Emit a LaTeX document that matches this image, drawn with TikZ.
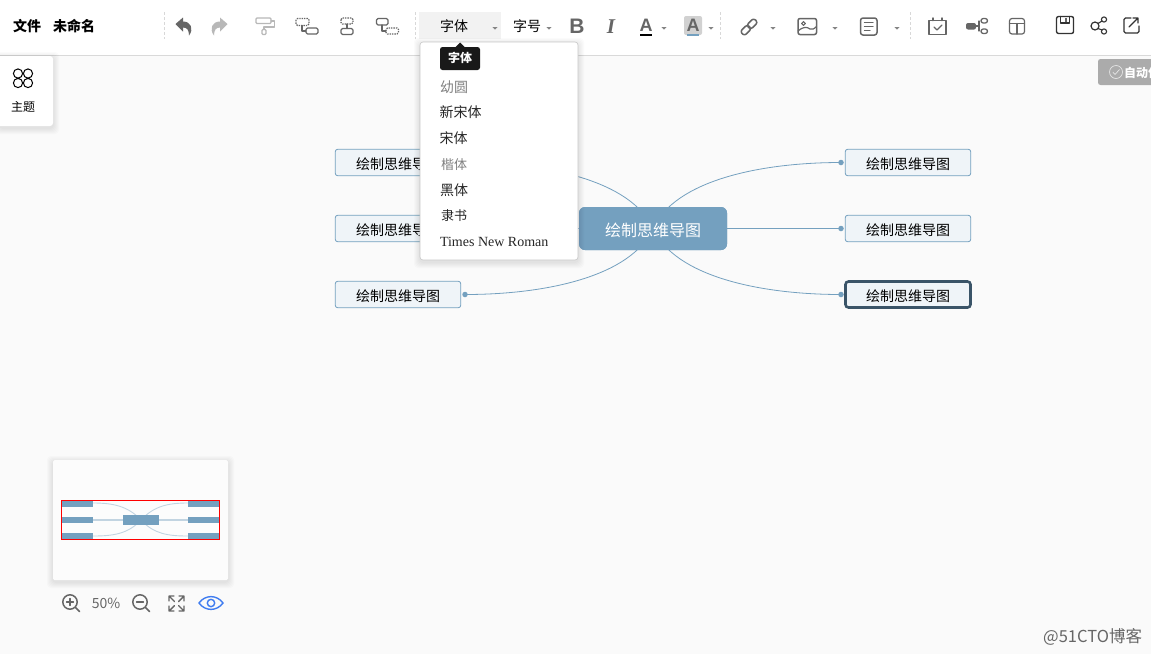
\documentclass[tikz,border=0pt]{standalone}
\usepackage{fontspec}
\setmainfont{Noto Sans CJK SC}
\newfontfamily\latinsans{Liberation Sans}
\newfontfamily\latinserif{Liberation Serif}
\usetikzlibrary{calc}
\definecolor{topic}{HTML}{74A0BF}
\definecolor{leaffill}{HTML}{EFF4F8}
\definecolor{selborder}{HTML}{3A5468}
\definecolor{canvasbg}{HTML}{FAFAFA}
\definecolor{icondark}{HTML}{666666}
\definecolor{iconlight}{HTML}{B8B8B8}
\definecolor{sepcol}{HTML}{D8D8D8}
\definecolor{minitrack}{HTML}{C2D4E1}
\definecolor{eyeblue}{HTML}{3F7CF0}
\newcommand{\fs}[1]{\fontsize{#1}{#1}\selectfont}
\newcommand{\softshadow}[4]{%
  \foreach \d in {1,2,3,4,5,6}{%
    \fill[black,opacity=.014,rounded corners=4pt] ({#1-\d},{#2-\d+2}) rectangle ({#3+\d},{#4+\d+2});}}
\newcommand{\lowered}[1]{\rule{0pt}{15pt}#1}
\newcommand{\loweredroot}[1]{\rule{0pt}{16.5pt}#1}
\tikzset{
  x=1pt,y=-1pt,
  txt/.style={inner sep=0pt,outer sep=0pt,text=black},
  leaf/.style={draw=topic,fill=leaffill,line width=.8pt,rounded corners=2.5pt,minimum width=125.5pt,minimum height=26.5pt,inner sep=0pt,font=\fs{14}},
  selleaf/.style={leaf,draw=selborder,line width=2.6pt,rounded corners=3pt,minimum width=125pt,minimum height=26pt},
  rootbox/.style={fill=topic,rounded corners=6pt,minimum width=148pt,minimum height=43pt,inner sep=0pt,text=white,font=\fs{16}},
  link/.style={draw=topic,line width=.8pt},
  linkdot/.style={circle,fill=topic,minimum size=5.5pt,inner sep=0pt},
  sepline/.style={draw=sepcol,line width=.7pt,dash pattern=on 2.5pt off 2.5pt},
  caret/.style={fill=icondark!80,draw=none},
  ico/.style={draw=icondark,line width=1.5pt,line cap=round,line join=round},
  icolight/.style={draw=iconlight,line width=1.5pt,line cap=round,line join=round},
  icodash/.style={draw=icondark,line width=1.1pt,dash pattern=on 1.4pt off 1pt},
  icodark/.style={draw=black!80,line width=1.4pt,line cap=round,line join=round},
  menuitem/.style={txt,anchor=west,text=black!85,font=\fs{14}},
  menufaint/.style={menuitem,text=black!50},
  minibar/.style={fill=topic},
  minitrackline/.style={draw=minitrack,line width=1.6pt},
  minicurve/.style={draw=minitrack,line width=.9pt},
}
\newcommand{\caretat}[2]{\fill[caret] ({#1-2.7},#2) -- ({#1+2.7},#2) -- (#1,{#2+2.7}) -- cycle;}
\begin{document}
\begin{tikzpicture}
\useasboundingbox (0,0) rectangle (1151,654);
\clip (0,0) rectangle (1151,654);
% canvas and toolbar
\fill[canvasbg] (0,0) rectangle (1151,654);
\fill[white] (0,0) rectangle (1151,55);
\draw[black!15,line width=1pt] (0,55.5) -- (1151,55.5);

% mind map connectors and nodes
\node[leaf] (l1) at (398,162.5) {\lowered{绘制思维导图}};
\node[leaf] (l2) at (398,228.5) {\lowered{绘制思维导图}};
\node[leaf] (l3) at (398,294.5) {\lowered{绘制思维导图}};
\node[leaf] (r1) at (908,162.5) {\lowered{绘制思维导图}};
\node[leaf] (r2) at (908,228.5) {\lowered{绘制思维导图}};
\node[selleaf] (r3) at (908,294.5) {\lowered{绘制思维导图}};
\node[rootbox,anchor=center] (root) at (653,228.5) {};
\node[linkdot] (dl1) at (465,162.5) {};
\node[linkdot] (dl2) at (465,228.5) {};
\node[linkdot] (dl3) at (465,294.5) {};
\node[linkdot] (dr1) at (841,162.5) {};
\node[linkdot] (dr2) at (841,228.5) {};
\node[linkdot] (dr3) at (841,294.5) {};
\draw[link] (root.center) .. controls +(22,-48) and +(-81,0) .. (dr1.center);
\draw[link] (root.center) -- (dr2.center);
\draw[link] (root.center) .. controls +(22,48) and +(-81,0) .. (dr3.center);
\draw[link] (root.center) .. controls +(-22,-48) and +(81,0) .. (dl1.center);
\draw[link] (root.center) -- (dl2.center);
\draw[link] (root.center) .. controls +(-22,48) and +(81,0) .. (dl3.center);
\node[rootbox] at (root.center) {\loweredroot{绘制思维导图}};

% left theme panel
\softshadow{0}{56}{53}{126}
\fill[white,rounded corners=3pt] (-6,56) rectangle (53,126);
\draw[black,line width=1pt] (18,73.5) circle (4.6) (28,73.5) circle (4.6) (18,83) circle (4.6) (28,83) circle (4.6);
\node[txt,font=\fs{12}] (themelabel) at (23,107) {主题};

% title
\node[txt,font=\fs{14}\bfseries] (filelabel) at (27,26) {文件};
\node[txt,font=\fs{14}\bfseries] (namelabel) at (74,26) {未命名};

% separators
\draw[sepline] (164.5,12) -- (164.5,39);
\draw[sepline] (415.5,12) -- (415.5,39);
\draw[sepline] (720.5,12) -- (720.5,39);
\draw[sepline] (910.5,12) -- (910.5,39);

% undo / redo
\fill[icondark] (175.5,24) -- (183,17.5) -- (183,21.5) .. controls (191,21.5) and (194,29) .. (189,35.5) .. controls (189,30) and (187,27.5) .. (183,27.5) -- (183,31.5) -- cycle;
\fill[iconlight] (227.5,24) -- (220,17.5) -- (220,21.5) .. controls (212,21.5) and (209,29) .. (214,35.5) .. controls (214,30) and (216,27.5) .. (220,27.5) -- (220,31.5) -- cycle;

% roller
\draw[icolight,line width=1.3pt,rounded corners=1pt] (256,18) rectangle (271,23.5);
\draw[icolight,line width=1.3pt] (271,21) -- (274.5,21) -- (274.5,27) -- (264,27) -- (264,29);
\draw[icolight,line width=1.3pt,rounded corners=1pt] (262,29.5) rectangle (266,34.5);
% sibling / child icons
\draw[icodash,rounded corners=1.5pt] (296,18.5) rectangle (309,25.5);
\draw[ico,line width=1.2pt] (302,25.5) -- (302,31) -- (306,31);
\draw[ico,line width=1.2pt,rounded corners=1.5pt] (306,28) rectangle (318,34);
\draw[icodash,rounded corners=1.5pt] (341,18) rectangle (353,24);
\draw[ico,line width=1.2pt] (347,24) -- (347,28.5);
\draw[ico,line width=1.2pt,rounded corners=1.5pt] (341,28.5) rectangle (353,34.5);
\draw[ico,line width=1.2pt,rounded corners=1.5pt] (376.5,18.5) rectangle (388,25);
\draw[ico,line width=1.2pt] (382,25) -- (382,31) -- (386,31);
\draw[icodash,rounded corners=1.5pt] (386,28) rectangle (398.5,34);

% font controls
\fill[black!5] (419,12) rectangle (501,39);
\node[txt,font=\fs{14}] (fontbtn) at (454,26.5) {字体};
\caretat{495}{27}
\node[txt,font=\fs{14}] (sizebtn) at (527,26.5) {字号};
\caretat{549}{27}
\node[txt,text=icondark,font=\fs{21}\latinsans\bfseries] (boldbtn) at (577,26.5) {B};
\node[txt,text=icondark,font=\fs{21}\latinserif\bfseries\itshape] (italicbtn) at (611,26.5) {I};
\node[txt,text=icondark,font=\fs{18}\latinsans\bfseries] (colorbtn) at (646,25) {A};
\fill[black] (640,33.5) rectangle (652,36);
\caretat{664}{27}
\fill[black!18,rounded corners=2pt] (684,16) rectangle (702,35);
\node[txt,text=icondark,font=\fs{18}\latinsans\bfseries] (fillbtn) at (693,25) {A};
\fill[topic] (687,33.5) rectangle (699,36);
\caretat{711}{27}

% link icon
\begin{scope}[shift={(749,27)},rotate=45]
\draw[ico,rounded corners=2.5pt] (-9.5,-3) rectangle (0.5,3);
\draw[ico,rounded corners=2.5pt] (-0.5,-3) rectangle (9.5,3);
\end{scope}
\caretat{773}{27}
% image icon
\draw[ico,rounded corners=2pt] (798,18.5) rectangle (816.5,34.5);
\draw[ico,line width=1.1pt] (803.5,23.5) circle (1.9);
\draw[ico,line width=1.2pt] (798,31) .. controls (804,26) and (807,27) .. (810,29) .. controls (812,30) and (814,29) .. (816.5,26.5);
\caretat{835}{27}
% doc icon
\draw[ico,rounded corners=2.5pt] (860.5,18) rectangle (877,35);
\draw[ico,line width=1.2pt] (864.5,22.5) -- (873,22.5) (864.5,26.5) -- (873,26.5) (864.5,30.5) -- (870,30.5);
\caretat{897}{27}
% calendar icon
\draw[ico] (929,20.5) rectangle (946,34.5);
\draw[ico] (933,18) -- (933,20.5) (942,18) -- (942,20.5);
\draw[ico,line width=1.3pt] (934,27) -- (937,30) -- (942,25);
% mind icon
\fill[icondark,rounded corners=2pt] (966,23) rectangle (976,29.5);
\draw[ico,line width=1.3pt] (976,26) -- (979,26) (979,21) -- (979,31);
\draw[ico,line width=1.3pt,rounded corners=2.3pt] (981,18.5) rectangle (987.5,23);
\draw[ico,line width=1.3pt,rounded corners=2.3pt] (981,29) rectangle (987.5,33.5);
% layout icon
\draw[ico,line width=1.2pt,rounded corners=2.5pt] (1009.5,18.5) rectangle (1024.5,34);
\draw[ico,line width=1.2pt] (1009.5,23.5) -- (1024.5,23.5) (1017,23.5) -- (1017,34);
% save icon
\draw[icodark,rounded corners=2pt] (1056.5,16.5) rectangle (1073.5,33.5);
\draw[icodark,line width=1.2pt] (1060.5,16.5) -- (1060.5,23) -- (1069.5,23) -- (1069.5,16.5);
\fill[icondark] (1064.5,18) rectangle (1067,22);
% share icon
\draw[icodark,line width=1.2pt] (1095,26) circle (4);
\draw[icodark,line width=1.1pt] (1104,19.5) circle (2.6) (1104,31.5) circle (2.6);
\draw[icodark,line width=1.1pt] (1098,23.5) -- (1102,21) (1098,28.5) -- (1102,30);
% export icon
\draw[icodark,line width=1.3pt,rounded corners=1.5pt] (1131,18) -- (1124,18) -- (1124,33) -- (1139,33) -- (1139,26);
\draw[icodark,line width=1.2pt] (1129,27) -- (1138,18) (1133,18) -- (1138,18) -- (1138,23);

% auto-save chip
\fill[black!33,rounded corners=2.5pt] (1098,59) rectangle (1165,85);
\draw[white!90!black,line width=.7pt] (1116,72) circle (6.5);
\draw[white!90!black,line width=.7pt] (1112.8,72) -- (1115,74.5) -- (1119.5,69.5);
\node[txt,anchor=west,text=white,font=\fs{12}\bfseries] (autosave) at (1124,72.5) {自动保存};

% dropdown
\softshadow{420}{42}{578}{260}
\draw[black!22,fill=white,line width=.6pt,rounded corners=3pt] (420,42) rectangle (578,260);
\node[menufaint] (m1) at (440,87) {幼圆};
\node[menuitem] (m2) at (439.5,112.5) {新宋体};
\node[menuitem] (m3) at (439.5,138.5) {宋体};
\node[menufaint,font=\fs{13}] (m4) at (441,164.5) {楷体};
\node[menuitem] (m5) at (440,190) {黑体};
\node[menuitem,font=\fs{13}] (m6) at (441,216) {隶书};
\node[menuitem,font=\fs{14}\latinserif] (m7) at (440,241.5) {Times New Roman};
% tooltip
\fill[black!90,rounded corners=2.5pt] (440,47) rectangle (480,70);
\fill[black!90] (455,47.5) -- (460,42.5) -- (465,47.5) -- cycle;
\node[txt,text=white,font=\fs{12}\bfseries] (tip) at (460,57.5) {字体};

% minimap
\softshadow{53}{460}{228}{580}
\fill[white!99!black,rounded corners=1.5pt] (53,460) rectangle (228,580);
\draw[minitrackline] (93,520) -- (188,520);
\draw[minicurve] (141,520) .. controls (128,506) and (113,503) .. (93,503);
\draw[minicurve] (141,520) .. controls (128,534) and (113,536) .. (93,536);
\draw[minicurve] (141,520) .. controls (154,506) and (168,503) .. (188,503);
\draw[minicurve] (141,520) .. controls (154,534) and (168,536) .. (188,536);
\fill[minibar] (62,501) rectangle (92.7,506.7);
\fill[minibar] (62,517) rectangle (92.7,523);
\fill[minibar] (62,533) rectangle (92.7,539);
\fill[minibar] (188,501) rectangle (219,506.7);
\fill[minibar] (188,517) rectangle (219,523);
\fill[minibar] (188,533) rectangle (219,539);
\fill[minibar] (122.5,515) rectangle (158.5,525);
\draw[red,line width=1.8pt] (61.5,500.5) -- (219.5,500.5) -- (219.5,539.5) -- (61.5,539.5) -- cycle;

% zoom controls
\draw[ico] (70,602) circle (7.2);
\draw[ico] (75.3,607.3) -- (79.5,611.5);
\draw[ico,line width=1.2pt] (66.5,602) -- (73.5,602) (70,598.5) -- (70,605.5);
\node[txt,text=icondark,font=\fs{14}] (zoomtxt) at (106,603) {50\%};
\draw[ico] (140,602) circle (7.2);
\draw[ico] (145.3,607.3) -- (149.5,611.5);
\draw[ico,line width=1.2pt] (136.5,602) -- (143.5,602);
% fit icon
\draw[ico,line width=1.4pt] (169,601) -- (169,596) -- (174,596) (169,596) -- (174.5,601.5);
\draw[ico,line width=1.4pt] (184,601) -- (184,596) -- (179,596) (184,596) -- (178.5,601.5);
\draw[ico,line width=1.4pt] (169,606) -- (169,611) -- (174,611) (169,611) -- (174.5,605.5);
\draw[ico,line width=1.4pt] (184,606) -- (184,611) -- (179,611) (184,611) -- (178.5,605.5);
% eye icon
\draw[eyeblue,line width=1.4pt] (199,603) .. controls (205,594.5) and (217,594.5) .. (223,603) .. controls (217,611.5) and (205,611.5) .. (199,603) -- cycle;
\draw[eyeblue,line width=1.4pt] (211,603) circle (3.7);

% watermark
\node[txt,anchor=east,text=black!60,font=\fs{16.5}] (mark) at (1142,637) {@51CTO博客};
\end{tikzpicture}
\end{document}
